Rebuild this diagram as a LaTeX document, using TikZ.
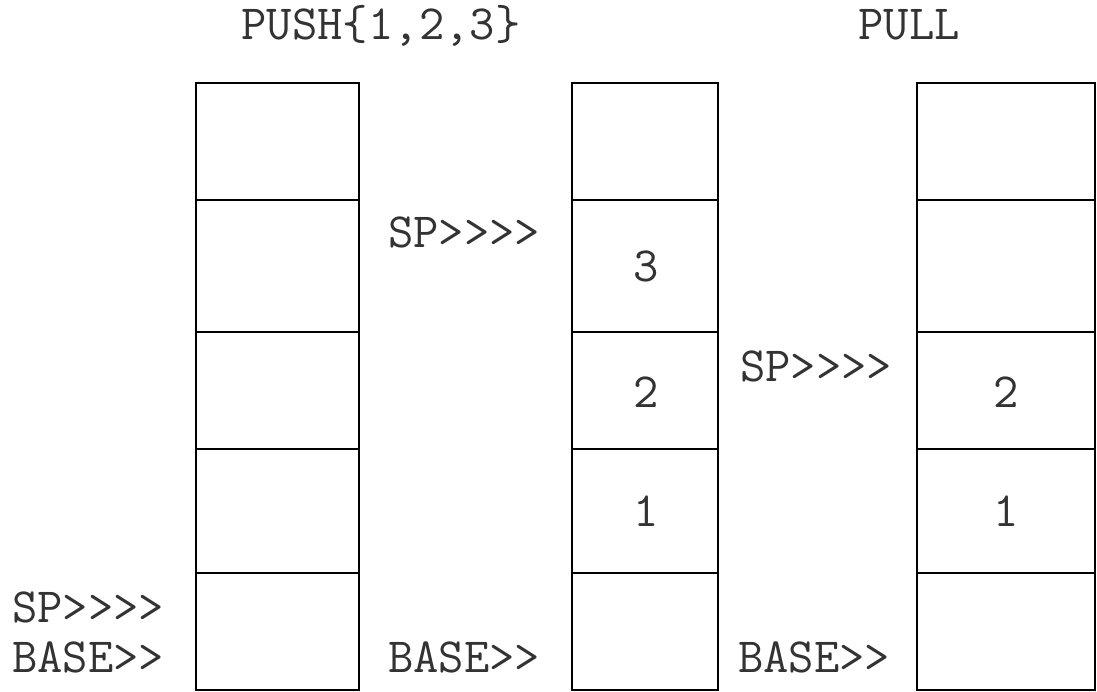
\documentclass[tikz,border=0pt]{standalone}
\usepackage{fontspec}
\usepackage{tikz}

\tikzset{
    stk/.style={line width=2pt},
    lbl/.style={anchor=base west, inner sep=0pt, text=black!80,
        font=\ttfamily\fontsize{35}{41}\selectfont},
    val/.style={lbl, anchor=base}
}

\begin{document}
\begin{tikzpicture}
        \useasboundingbox (0,0) rectangle (27.425,17.3);

        % Titles
        \node[val] (push) at (9.525,16.3) {PUSH\{1,2,3\}};
        \node[val] (pull) at (22.725,16.3) {PULL};

        % Empty stack
        \draw[stk] (4.9,0.05) rectangle (8.975,15.225);
        \foreach \y in {2.975,6.075,9.0,12.3}{
            \draw[stk] (4.9,\y) -- (8.975,\y);
        }
        \node[lbl] (spA) at (0.3,1.725) {SP>>>>};
        \node[lbl] (baseA) at (0.3,0.475) {BASE>>};

        % Stack after push
        \draw[stk] (14.3,0.05) rectangle (17.95,15.225);
        \foreach \y in {2.975,6.075,9.0,12.3}{
            \draw[stk] (14.3,\y) -- (17.95,\y);
        }

        % Values
        \foreach \y/\v in {4.125/1, 7.1/2, 10.25/3}{
            \node[val] (b\v) at (16.15,\y) {\v};
        }
        \node[lbl] (spB) at (9.7,11.1) {SP>>>>};
        \node[lbl] (baseB) at (9.7,0.475) {BASE>>};

        % Stack after pull
        \draw[stk] (22.925,0.05) rectangle (27.375,15.225);
        \foreach \y in {2.975,6.075,9.0,12.3}{
            \draw[stk] (22.925,\y) -- (27.375,\y);
        }

        % Values
        \foreach \y/\v in {4.125/1, 7.1/2}{
            \node[val] (c\v) at (25.15,\y) {\v};
        }
        \node[lbl] (spC) at (18.5,7.75) {SP>>>>};
        \node[lbl] (baseC) at (18.45,0.475) {BASE>>};

    \end{tikzpicture}
\end{document}
